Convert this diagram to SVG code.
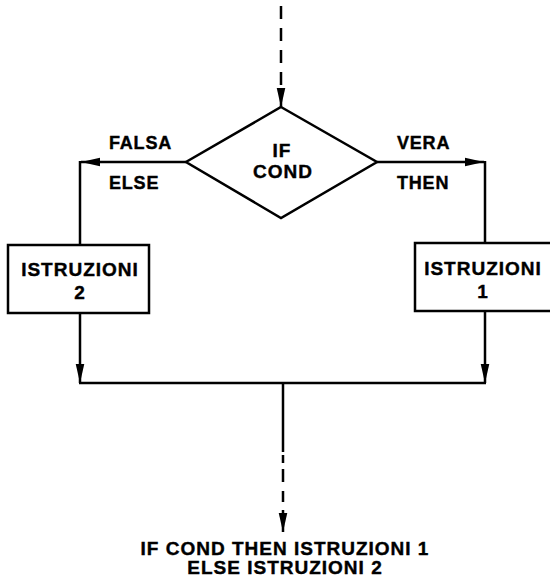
<svg xmlns="http://www.w3.org/2000/svg" width="550" height="583" viewBox="0 0 550 583">
<style>
.t{font-family:"Liberation Sans",Arial,sans-serif;font-weight:bold;font-size:19px;letter-spacing:1px;fill:#000;stroke:#000;stroke-width:0.4;text-anchor:middle}
.s{font-size:18px;letter-spacing:0.8px;text-anchor:start}
.ln{fill:none;stroke:#000;stroke-width:2.5}
.dash{stroke-dasharray:13 9}
</style>
<defs>
<marker id="ah" viewBox="0 0 20 10" refX="20" refY="5" markerWidth="19" markerHeight="9.5" markerUnits="userSpaceOnUse" orient="auto">
<path d="M0,0.5 L20,5 L0,9.5 Z" fill="#000"/>
</marker>
</defs>
<rect width="550" height="583" fill="#fff"/>
<g id="connectors">
<line class="ln dash" x1="281" y1="6" x2="281" y2="107" marker-end="url(#ah)"/>
<path class="ln" d="M186,162 L81,162" marker-end="url(#ah)"/>
<path class="ln" d="M80,161 L80,245"/>
<path class="ln" d="M377,162 L484,162" marker-end="url(#ah)"/>
<path class="ln" d="M485,161 L485,243"/>
<path class="ln" d="M80,312 L80,383" marker-end="url(#ah)"/>
<path class="ln" d="M485,311 L485,383" marker-end="url(#ah)"/>
<path class="ln" d="M79,383 L486,383"/>
<path class="ln" d="M283,383 L283,452"/>
<path class="ln" d="M283,455 L283,532" stroke-dasharray="8 6 13 9 11 8" marker-end="url(#ah)"/>
</g>
<g id="cond">
<polygon class="ln" points="281,107 377,162 281,218 186,162"/>
<text class="t" x="282" y="157">IF</text>
<text class="t" x="283" y="178">COND</text>
</g>
<g id="labels">
<text class="t s" x="109" y="149">FALSA</text>
<text class="t s" x="109" y="189">ELSE</text>
<text class="t s" x="397" y="149">VERA</text>
<text class="t s" x="397" y="189">THEN</text>
</g>
<g id="istr2">
<rect class="ln" x="8" y="245" width="141" height="68"/>
<text class="t" x="80" y="276">ISTRUZIONI</text>
<text class="t" x="80" y="299">2</text>
</g>
<g id="istr1">
<rect class="ln" x="415" y="243" width="142" height="68"/>
<text class="t" x="483" y="275">ISTRUZIONI</text>
<text class="t" x="483" y="298">1</text>
</g>
<g id="caption">
<text class="t" x="285" y="555">IF COND THEN ISTRUZIONI 1</text>
<text class="t" x="285" y="574">ELSE ISTRUZIONI 2</text>
</g>
</svg>
